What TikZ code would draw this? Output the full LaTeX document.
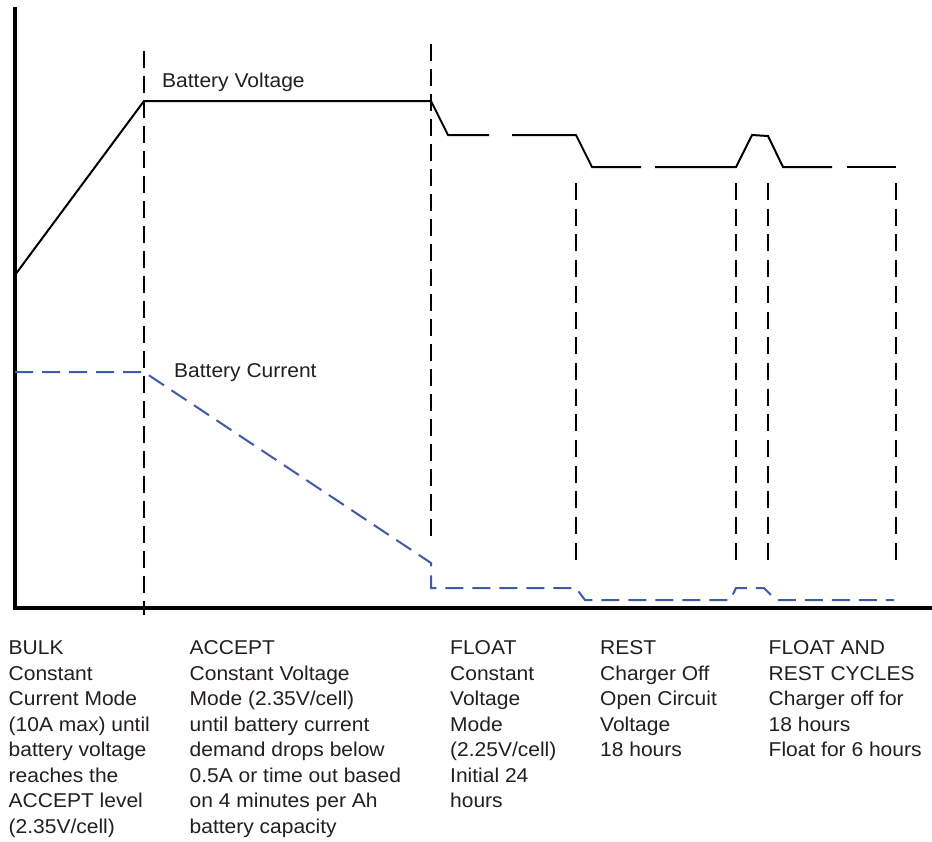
\documentclass[tikz,border=0pt]{standalone}
\usepackage{fontspec}
\setmainfont{Liberation Sans}[FakeStretch=1.05]
\definecolor{txt}{HTML}{231F20}
\definecolor{cur}{RGB}{63,90,170}
\begin{document}
\begin{tikzpicture}[x=1pt,y=-1pt,
  axis/.style={line width=3.5pt,black},
  volt/.style={line width=2pt,black,line join=miter},
  curr/.style={line width=2pt,cur,dash pattern=on 18pt off 9pt},
  phase/.style={line width=2pt,black,dash pattern=on 17pt off 8pt},
  phaseshort/.style={line width=2pt,black,dash pattern=on 17pt off 8.7pt},
  lbl/.style={inner sep=0pt,anchor=base west,text=txt,font=\fontsize{20}{25.5}\selectfont},
]
\useasboundingbox[fill=white] (0,0) rectangle (932,841);

% axes
\coordinate (ytop) at (15,7);
\coordinate (orig) at (15,608);
\coordinate (xend) at (934,608);
\draw[axis] (ytop) -- (orig) -- (xend);

% phase boundaries
\draw[phase] (144,51) -- (144,615);
\draw[phase] (431,44) -- (431,542);
\draw[phaseshort] (576,183) -- (576,560);
\draw[phaseshort] (736,183) -- (736,560);
\draw[phaseshort] (768,183) -- (768,560);
\draw[phaseshort] (896,183) -- (896,560);

% battery voltage
\draw[volt] (15,275) -- (144,101) -- (431,101) -- (448,135) -- (489,135);
\draw[volt] (512,135) -- (576,135) -- (592,167) -- (641,167);
\draw[volt] (655,167) -- (736,167) -- (752,135) -- (768,136) -- (783,167) -- (832,167);
\draw[volt] (847,167) -- (896,167);

% battery current
\draw[curr] (15,372) -- (144,372) -- (431,563) -- (431,588) -- (576,588) -- (585,600)
  -- (730,600) -- (736,588) -- (764,588) -- (776,600) -- (894,600);

% labels
\node[lbl] (bv) at (162,87) {Battery Voltage};
\node[lbl] (bc) at (174,377) {Battery Current};

\node[lbl] (bulk) at (8.5,654.5) {\vtop{\hbox{BULK}\hbox{Constant}\hbox{Current Mode}\hbox{(10A max) until}\hbox{battery voltage}\hbox{reaches the}\hbox{ACCEPT level}\hbox{(2.35V/cell)}}};
\node[lbl] (accept) at (189.5,654.5) {\vtop{\hbox{ACCEPT}\hbox{Constant Voltage}\hbox{Mode (2.35V/cell)}\hbox{until battery current}\hbox{demand drops below}\hbox{0.5A or time out based}\hbox{on 4 minutes per Ah}\hbox{battery capacity}}};
\node[lbl] (float) at (450,654.5) {\vtop{\hbox{FLOAT}\hbox{Constant}\hbox{Voltage}\hbox{Mode}\hbox{(2.25V/cell)}\hbox{Initial 24}\hbox{hours}}};
\node[lbl] (rest) at (600,654.5) {\vtop{\hbox{REST}\hbox{Charger Off}\hbox{Open Circuit}\hbox{Voltage}\hbox{18 hours}}};
\node[lbl] (cycles) at (768.5,654.5) {\vtop{\hbox{FLOAT AND}\hbox{REST CYCLES}\hbox{Charger off for}\hbox{18 hours}\hbox{Float for 6 hours}}};
\end{tikzpicture}
\end{document}
